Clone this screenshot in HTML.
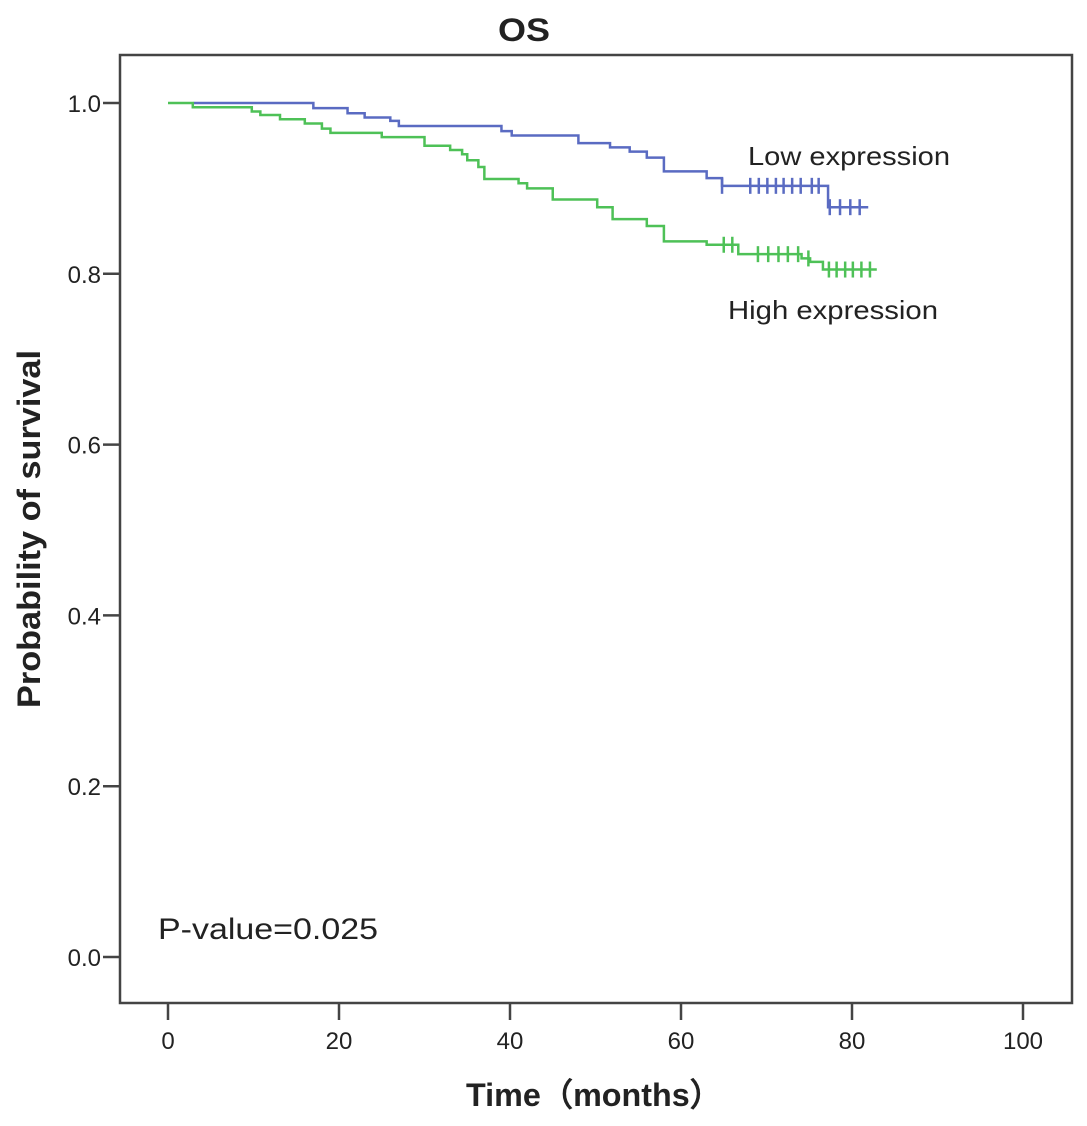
<!DOCTYPE html>
<html><head><meta charset="utf-8"><style>
body{margin:0;background:#fff}
svg text{font-family:"Liberation Sans",Arial,sans-serif;fill:#222}
</style></head><body>
<svg id="c" width="1087" height="1121" xmlns="http://www.w3.org/2000/svg">
<rect x="0" y="0" width="1087" height="1121" fill="#fff"/>
<text x="498" y="41" font-size="32" font-weight="bold" textLength="52" lengthAdjust="spacingAndGlyphs">OS</text>
<rect x="120" y="55" width="952" height="948" fill="none" stroke="#444" stroke-width="2.5"/>
<g id="axes"></g>
<g id="series"></g>
<text x="748" y="165" font-size="26" textLength="202" lengthAdjust="spacingAndGlyphs">Low expression</text>
<text x="728" y="319" font-size="26" textLength="210" lengthAdjust="spacingAndGlyphs">High expression</text>
<text x="158" y="939" font-size="30" textLength="220" lengthAdjust="spacingAndGlyphs">P-value=0.025</text>
<text x="466" y="1106" font-size="32" font-weight="bold" textLength="256" lengthAdjust="spacingAndGlyphs" font-family="Liberation Sans, Noto Sans CJK SC, sans-serif">Time（months）</text>
<text transform="translate(40,708) rotate(-90)" font-size="32" font-weight="bold" textLength="358" lengthAdjust="spacingAndGlyphs">Probability of survival</text>
</svg>
<script>
const xTicks=[0,20,40,60,80,100];
const yTicks=[0.0,0.2,0.4,0.6,0.8,1.0];
const yTickLabels=["0.0","0.2","0.4","0.6","0.8","1.0"];
// steps: [time, survival after]
const lowStart=[3,1.0];
const lowSteps=[[17,0.994],[21,0.988],[23,0.983],[26,0.979],[27,0.973],[39,0.967],[40.2,0.962],[48,0.953],[51.7,0.948],[54,0.943],[56,0.936],[58,0.92],[63,0.912],[64.8,0.903],[77.2,0.878]];
const lowEnd=81.9;
const lowCensor=[64.8,68.1,69.1,70.1,71.1,72,73,74,75.3,76.1,77.4,78.6,79.8,80.9];
const highStart=[0,1.0];
const highSteps=[[2.9,0.995],[9.8,0.99],[10.8,0.986],[13.1,0.981],[16,0.976],[18,0.97],[19,0.965],[25,0.96],[30,0.95],[33,0.945],[34.4,0.94],[35,0.933],[36.3,0.925],[37,0.911],[41,0.906],[42,0.9],[45,0.887],[50.2,0.878],[52,0.864],[56,0.856],[58,0.838],[63,0.834],[66.7,0.823],[74.1,0.818],[75.1,0.814],[76.6,0.805]];
const highEnd=82.9;
const highCensor=[65,66,69,70.2,71.4,72.5,73.7,74.9,77.3,78.2,79.2,80.1,81.1,82.1];
const X=t=>168+8.55*t, Y=s=>957-854*s;
const NS="http://www.w3.org/2000/svg";
const ax=document.getElementById('axes'), se=document.getElementById('series');
function mk(tag,attrs,parent){const e=document.createElementNS(NS,tag);for(const k in attrs)e.setAttribute(k,attrs[k]);parent.appendChild(e);return e;}
xTicks.forEach(t=>{
  const l=mk('line',{x1:X(t),x2:X(t),y1:1003,y2:1020,stroke:'#444','stroke-width':2.5},ax);
  
  
  const tx=mk('text',{x:X(t),y:1049,'font-size':24,'text-anchor':'middle'},ax);tx.textContent=t;
  
  
});
yTicks.forEach((v,i)=>{
  const l=mk('line',{x1:103,x2:120,y1:Y(v),y2:Y(v),stroke:'#444','stroke-width':2.5},ax);
  
  
  const tx=mk('text',{x:101,y:Y(v)+9,'font-size':24,'text-anchor':'end'},ax);tx.textContent=yTickLabels[i];
  
  
});
function survAt(start,steps,t){let s=start[1];steps.forEach(p=>{if(p[0]<=t)s=p[1];});return s;}
function draw(start,steps,end,cens,color,name){
  let d=`M${X(start[0])},${Y(start[1])}`;
  steps.forEach(p=>{d+=` H${X(p[0])} V${Y(p[1])}`;});
  d+=` H${X(end)}`;
  const p=mk('path',{d:d,fill:'none',stroke:color,'stroke-width':2.5},se);
  
  
  cens.forEach(t=>{const v=survAt(start,steps,t);
    const c=mk('line',{x1:X(t),x2:X(t),y1:Y(v)-8,y2:Y(v)+8,stroke:color,'stroke-width':2.5},se);
    
    
  });
}
draw(lowStart,lowSteps,lowEnd,lowCensor,'#5a6bc2','low-expression');
draw(highStart,highSteps,highEnd,highCensor,'#4ec157','high-expression');
</script>
</body></html>
